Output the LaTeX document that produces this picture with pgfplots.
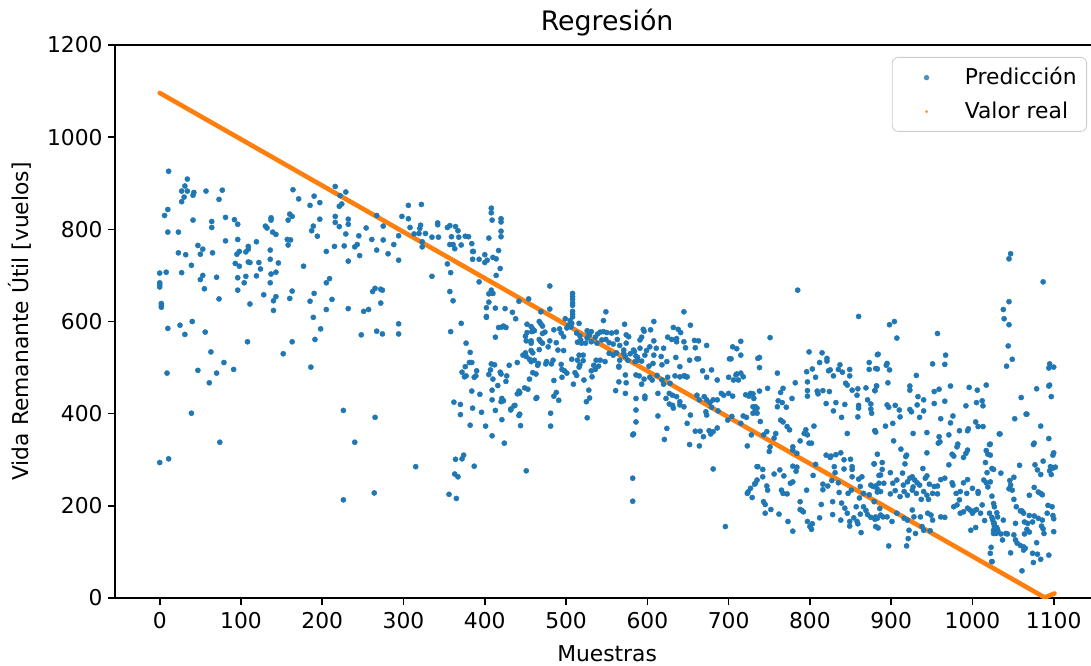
\documentclass[border=0pt]{standalone}
\usepackage{fontspec}
\setmainfont{DejaVu Sans}
\usepackage{pgfplots}
\pgfplotsset{compat=1.18}
\definecolor{mplblue}{HTML}{1F77B4}
\definecolor{mplorange}{HTML}{FF7F0E}

\begin{document}
\begin{tikzpicture}
% the reference image is cut just left of the right spine
\useasboundingbox (-57.5pt,-33.5pt) rectangle (488pt,299pt);
\clip (-57.5pt,-33.5pt) rectangle (488pt,299pt);
\begin{axis}[
    at={(0,0)}, anchor=south west,
    scale only axis,
    width=492.1pt, height=276.5pt,
    xmin=-55, xmax=1156,
    ymin=0, ymax=1200,
    xtick={0,100,...,1100},
    ytick={0,200,...,1200},
    tick pos=left,
    tick align=outside,
    major tick length=3.5pt,
    tick style={black, line width=0.8pt},
    axis line style={line width=0.8pt},
    /pgf/number format/assume math mode=true,
    /pgf/number format/1000 sep={},
    tick label style={font=\fontsize{10.9}{13}\selectfont},
    yticklabel style={inner xsep=2.5pt},
    title={Regresión},
    every axis title/.style={font=\fontsize{13.4}{16}\selectfont, at={(axis description cs:0.5,1)}, anchor=base, yshift=7.5pt},
    xlabel={Muestras},
    xlabel style={font=\fontsize{10.9}{13}\selectfont, at={(axis description cs:0.5,0)}, anchor=base, yshift=-31.5pt},
    ylabel={Vida Remanante Útil [vuelos]},
    ylabel style={font=\fontsize{10.9}{13}\selectfont, at={(axis description cs:-0.0965,0.5)}, anchor=center, rotate=0},
    legend cell align=left,
    legend style={at={(axis description cs:0.9876,0.9783)}, anchor=north east,
        draw=black!20, rounded corners=3pt, fill=white, fill opacity=0.8, text opacity=1,
        inner xsep=3pt, inner ysep=3pt, row sep=3pt, font=\fontsize{10.9}{13}\selectfont},
]
\addplot[mplblue, only marks, mark=*, mark size=1.3pt, mark options={solid, fill=mplblue, draw=mplblue, line width=0.2pt},
    legend image code/.code={\path (0pt,0pt) (29pt,0pt); \fill[mplblue, draw=none] (13pt,0pt) circle[radius=1.35pt];}]
coordinates {
(11,926)(34,909)(31,894)(27,883)(34,883)(42,880)(57,883)(77,885)(30,870)(41,874)(27,860)(73,865)(10,843)(6,830)(41,820)(64,817)(81,826)(92,821)(96,811)(137,825)(137,820)(130,807)(132,803)(64,804)(10,794)(23,794)(139,794)(143,789)(81,775)(96,778)(119,773)(47,765)(53,757)(23,749)(32,745)(50,746)(65,749)(109,763)(109,757)(98,752)(106,751)(95,746)(136,755)(136,735)(146,727)(93,726)(98,720)(109,729)(111,728)(122,728)(124,714)(39,722)(0,705)(8,707)(27,706)(53,700)(50,691)(70,696)(55,671)(73,649)(96,695)(106,698)(119,699)(104,684)(96,668)(137,703)(143,707)(136,684)(128,658)(143,654)(140,645)(111,638)(140,624)(0,684)(0,680)(0,675)(2,639)(2,631)(2,635)(10,585)(25,592)(40,600)(31,572)(56,577)(108,556)(63,534)(79,511)(91,496)(47,494)(70,488)(61,467)(9,488)(39,401)(74,338)(0,294)(11,302)
(164,886)(171,866)(190,872)(216,893)(229,881)(222,873)(224,855)(221,850)(197,858)(185,852)(160,833)(163,828)(158,820)(197,822)(216,828)(216,815)(221,806)(232,822)(232,811)(189,807)(187,797)(194,785)(229,790)(245,786)(254,803)(267,830)(275,807)(294,786)(157,778)(161,777)(158,766)(205,752)(215,763)(227,764)(240,762)(243,767)(246,743)(232,731)(261,778)(267,755)(275,777)(281,747)(288,767)(294,733)(177,720)(209,693)(205,684)(160,650)(163,666)(190,661)(185,644)(212,648)(205,626)(232,628)(189,609)(198,584)(191,561)(163,556)(152,530)(186,501)(251,622)(257,626)(265,672)(262,665)(272,670)(274,668)(272,640)(248,571)(267,579)(274,573)(294,595)(294,573)(226,407)(265,392)(240,338)(226,213)(264,228)
(306,852)(322,854)(298,828)(306,823)(308,804)(313,790)(319,791)(320,802)(321,809)(327,791)(323,762)(323,773)(335,783)(343,783)(342,814)(342,810)(354,804)(357,808)(364,806)(367,797)(359,784)(368,783)(376,785)(380,784)(357,767)(361,767)(363,758)(371,766)(384,769)(385,752)(386,752)(385,735)(393,735)(400,745)(400,728)(403,733)(410,739)(414,736)(405,781)(408,846)(408,836)(409,820)(420,823)(420,816)(420,796)(420,784)(417,754)(419,715)(414,700)(335,698)(354,725)(358,706)(357,665)(361,645)(393,686)(408,668)(409,661)(405,660)(410,661)(405,642)(402,630)(402,611)(402,609)(413,629)(425,628)(434,620)(438,606)(442,644)(417,587)(421,588)(423,590)(426,587)(413,566)(371,596)(358,578)(377,553)(382,533)(372,490)(376,502)(381,511)(384,511)(375,480)(377,482)(387,479)(390,493)(389,482)(384,449)(394,442)(405,485)(407,495)(408,508)(412,506)(410,475)(419,490)(420,486)(427,482)(426,470)(430,505)(416,461)(409,451)(409,430)(421,433)(423,428)(420,426)(432,408)(436,417)(440,511)(442,444)(442,449)(396,403)(413,407)(421,387)(409,352)(401,373)(382,375)(385,412)(370,420)(370,398)(362,425)(424,336)(442,396)(315,285)(364,301)(372,302)(374,310)(387,286)(363,269)(367,263)(356,225)(365,216)
(480,677)(508,661)(508,654)(508,648)(508,640)(508,635)(508,622)(508,616)(508,610)(454,649)(469,621)(480,627)(549,621)(546,602)(499,606)(505,602)(507,596)(503,592)(501,586)(506,588)(516,596)(452,594)(457,589)(459,584)(461,580)(458,578)(467,600)(469,595)(471,590)(452,576)(450,568)(451,558)(457,553)(457,558)(467,561)(469,556)(471,553)(474,577)(471,574)(480,558)(485,582)(488,554)(492,584)(494,575)(497,567)(497,537)(490,538)(478,545)(513,575)(517,569)(518,560)(514,555)(519,553)(526,580)(531,578)(528,571)(526,564)(524,553)(467,539)(457,537)(459,532)(450,532)(447,527)(451,524)(455,518)(457,513)(461,516)(466,509)(465,505)(476,513)(484,516)(482,508)(475,508)(507,518)(514,516)(521,515)(516,527)(521,527)(494,507)(495,496)(498,493)(501,488)(495,479)(459,489)(463,486)(455,475)(485,472)(511,489)(513,483)(516,501)(517,506)(509,464)(522,473)(531,493)(534,505)(536,496)(532,480)(528,451)(529,434)(525,426)(526,391)(449,456)(453,453)(440,443)(443,446)(463,433)(464,435)(488,446)(485,438)(491,429)(481,401)(481,373)(437,418)(432,410)(443,399)(444,374)(451,276)(537,516)(542,516)(540,503)(548,513)(529,571)(536,566)(539,573)(542,577)(546,578)(550,576)(556,575)(562,577)(531,556)(538,553)(544,560)(549,561)(553,554)(558,551)(563,561)(566,548)(571,538)(574,553)(572,594)(574,571)(577,567)(571,531)(573,524)(576,516)(579,530)(584,535)(586,525)(588,516)(553,531)(558,527)(562,532)(566,516)(565,501)(565,503)(573,484)(574,467)(573,444)(561,450)(565,469)(590,482)(586,433)(586,408)(586,382)(582,354)(582,260)(582,210)
(645,621)(608,600)(653,592)(632,587)(638,583)(641,576)(595,583)(596,579)(604,582)(593,566)(591,560)(608,558)(625,566)(630,561)(636,563)(636,556)(645,556)(647,543)(659,543)(658,559)(663,558)(673,548)(583,538)(591,542)(599,537)(603,545)(611,542)(620,542)(617,524)(608,527)(597,527)(588,522)(585,513)(593,514)(602,503)(607,509)(618,506)(624,513)(635,522)(640,502)(645,482)(649,480)(652,516)(661,519)(663,519)(668,493)(679,495)(673,479)(686,473)(700,479)(705,545)(710,541)(715,527)(715,557)(710,486)(703,519)(701,519)(586,484)(603,479)(606,473)(612,483)(618,473)(620,464)(625,479)(628,466)(634,482)(640,480)(646,482)(648,480)(593,464)(596,475)(613,444)(623,433)(627,444)(631,440)(636,437)(640,426)(631,418)(627,421)(597,438)(597,433)(613,395)(632,412)(640,419)(645,415)(653,397)(649,379)(661,440)(664,430)(670,437)(673,430)(677,424)(681,430)(686,430)(691,444)(694,440)(700,444)(705,438)(679,414)(672,404)(673,397)(687,406)(706,473)(709,484)(712,473)(715,488)(718,480)(721,441)(725,438)(727,444)(731,433)(733,415)(735,412)(730,401)(722,392)(718,395)(715,379)(699,386)(704,394)(659,362)(665,362)(676,363)(681,361)(686,369)(678,356)(669,350)(664,330)(652,333)(583,356)(621,344)(624,368)(723,330)(735,285)(735,256)(732,247)(723,227)(724,230)(727,238)(681,280)(696,155)
(751,565)(799,534)(815,532)(736,520)(738,522)(738,500)(760,488)(748,455)(738,449)(730,443)(767,455)(764,446)(761,428)(760,415)(766,424)(771,414)(778,433)(782,467)(796,491)(803,497)(797,469)(807,479)(812,511)(821,520)(821,514)(825,495)(823,493)(829,482)(797,450)(797,438)(809,449)(810,443)(816,450)(824,448)(835,496)(837,506)(840,490)(844,466)(846,462)(849,496)(849,482)(820,422)(829,406)(832,424)(839,392)(843,420)(846,357)(852,451)(859,454)(858,440)(860,418)(860,412)(859,393)(869,456)(873,511)(873,496)(871,430)(875,410)(880,363)(881,360)(883,497)(882,460)(883,528)(880,450)
(729,218)(733,249)(736,285)(742,263)(742,279)(747,243)(748,234)(743,209)(745,203)(745,184)(752,192)(756,269)(762,182)(763,278)(768,265)(765,234)(767,227)(772,226)(773,166)(776,249)(779,252)(779,145)(779,286)(783,275)(784,284)(788,209)(788,192)(790,190)(792,187)(796,234)(797,166)(800,155)(802,149)(803,161)(804,266)(807,290)(812,174)(814,203)(816,247)(816,235)(822,243)(827,255)(828,209)(828,181)(832,311)(831,272)(835,250)(836,229)(838,169)(839,206)(842,280)(843,195)(846,184)(847,227)(849,166)(849,156)(851,234)(852,279)(852,263)(854,174)(857,198)(858,166)(859,161)(861,217)(862,242)(862,182)(864,263)(863,142)(866,198)(869,190)(871,181)(873,224)(875,175)(878,242)(879,209)(880,171)(881,155)(884,152)(883,230)(886,194)(885,266)
(820,310)(825,305)(826,308)(830,285)(838,315)(842,300)(850,301)(852,285)(860,258)(866,227)(879,291)(883,312)(730,415)(733,408)(735,401)(739,383)(743,354)(747,361)(728,354)(758,357)(756,347)(751,328)(750,318)(764,386)(767,382)(772,372)(775,365)(779,328)(779,321)(784,314)(788,341)(793,357)(795,365)(797,354)(799,336)(802,336)(805,373)(785,668)(860,611)
(898,593)(904,600)(907,564)(957,574)(884,529)(895,509)(894,505)(898,495)(881,498)(882,460)(880,450)(896,467)(967,527)(966,507)(951,508)(931,483)(923,460)(923,451)(953,448)(959,453)(973,460)(996,457)(1006,451)(1017,462)(933,437)(940,430)(932,419)(940,406)(953,422)(966,427)(895,419)(897,414)(905,418)(910,408)(911,393)(923,409)(925,404)(875,421)(876,401)(992,417)(1005,424)(1012,428)(1013,417)(935,392)(961,389)(976,395)(973,380)(1004,382)(1007,372)(1013,372)(880,363)(893,373)(902,379)(903,341)(912,323)(927,357)(944,359)(959,350)(958,336)(960,339)(971,354)(984,363)(995,367)(994,363)(982,334)(981,328)(994,321)(992,314)(989,305)(975,312)(977,308)(971,289)(1021,333)(1017,320)(1019,312)(1016,294)(1018,272)(1033,356)(919,310)(918,307)(917,291)(944,315)(879,291)(889,294)(889,279)(887,267)(891,249)(885,249)(881,243)(875,245)
(899,272)(902,249)(907,256)(914,271)(915,245)(920,252)(923,260)(926,263)(929,256)(927,241)(932,250)(935,245)(939,281)(942,260)(944,265)(947,247)(953,242)(957,243)(961,257)(966,260)(975,250)(976,245)(980,227)(985,231)(989,250)(994,257)(993,227)(1000,238)(1007,231)(1014,256)(1017,250)(1019,241)(1024,221)
(883,236)(887,231)(899,226)(905,233)(911,220)(916,231)(920,223)(926,234)(931,227)(937,214)(940,231)(944,223)(946,214)(951,227)(957,226)(881,176)(883,173)(887,180)(890,176)(895,176)(901,166)(907,184)(916,173)(920,169)(922,147)(921,129)(919,113)(926,191)(928,176)(930,140)(936,176)(938,155)(940,147)(945,184)(949,180)(951,169)(948,146)(961,176)(966,175)(897,113)
(977,198)(981,202)(984,213)(985,184)(989,187)(994,195)(997,191)(998,147)(1000,184)(1002,189)(1005,192)(1007,227)(1010,184)(1012,202)(1004,153)(1015,168)(1021,184)(1024,175)(1025,169)(1026,162)(1027,155)(1026,147)(1029,140)(1031,147)(1023,110)(1024,79)
(1047,747)(1045,736)(1087,686)(1045,643)(1038,626)(1039,606)(1045,593)(1044,547)(1049,518)(1042,503)(1095,508)(1094,499)(1100,501)(1095,462)(1094,460)(1097,437)(1079,454)(1060,435)(1066,399)(1067,399)(1052,389)(1084,373)(1034,356)(1076,336)(1075,333)(1094,346)(1100,315)(1099,310)(1087,297)(1077,289)(1080,278)(1084,268)(1058,288)(1051,262)(1046,255)(1045,237)(1096,285)(1099,282)(1102,284)(1095,276)(1097,268)(1035,271)(1026,279)(1070,223)(1076,240)(1084,227)(1086,224)(1081,230)(1047,245)(1049,234)(1051,214)(1054,198)(1059,189)(1061,189)
(1063,184)(1064,165)(1068,162)(1070,179)(1074,165)(1076,178)(1081,173)(1085,156)(1086,169)(1087,150)(1088,140)(1092,184)(1093,201)(1098,198)(1099,179)(1100,172)(1100,144)(1053,162)(1051,137)(1053,126)(1055,119)(1059,114)(1063,111)(1063,104)(1065,108)(1047,98)(1061,59)(1067,149)(1064,139)(1070,143)(1079,120)(1074,97)(1080,95)(1084,84)(1075,77)(1094,93)
(1022,334)(1022,310)(1024,281)(1022,252)(1026,205)(1027,198)(1030,185)(1031,176)(1027,162)(1030,153)(1031,147)(1026,140)(1035,139)(1038,169)(1041,140)(1043,139)(1037,126)(1022,97)(1024,79)
};
\addlegendentry{Predicción}
\addplot[mplorange, line width=2.3pt, line join=round, line cap=round,
    legend image code/.code={\path (0pt,0pt) (29pt,0pt); \fill[mplorange, draw=none] (13pt,0pt) circle[radius=0.8pt];}]
coordinates {(0,1096)(1089,1)(1101,10)};
\addlegendentry{Valor real}
\end{axis}
\end{tikzpicture}
\end{document}
